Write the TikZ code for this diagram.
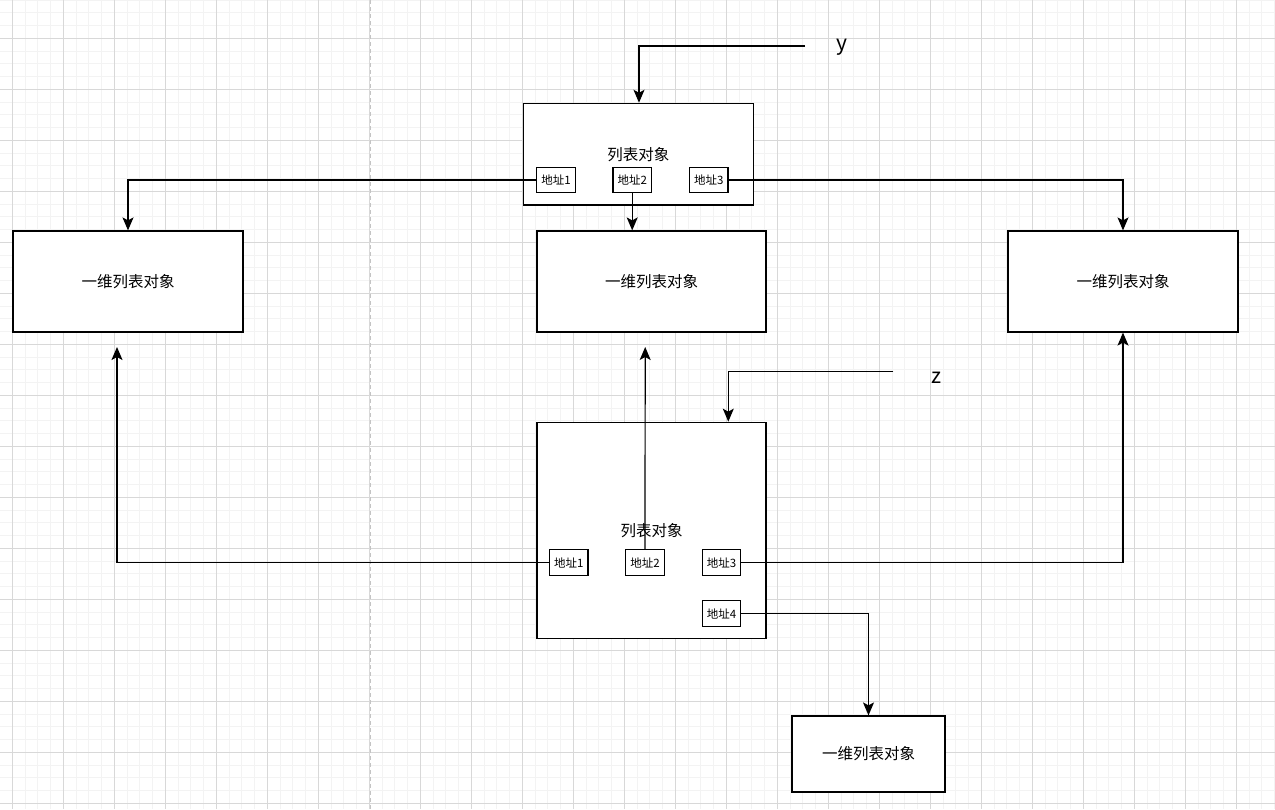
\documentclass[tikz,border=0pt]{standalone}
\usepackage{fontspec}
\setmainfont{Noto Sans CJK SC}
\usetikzlibrary{arrows.meta}
\definecolor{gridminor}{HTML}{F3F3F3}
\definecolor{gridmajor}{HTML}{D8D8D8}
\definecolor{dashgrey}{HTML}{C4C4C4}
\tikzset{
  box/.style={draw=black, fill=white, line width=1.2pt, inner sep=0pt},
  bigbox/.style={box, font=\fontsize{15.5}{17}\selectfont},
  addr/.style={box, minimum width=38.5pt, minimum height=25.5pt, font=\fontsize{11.5}{12}\selectfont},
  arr/.style={line width=1.2pt, -{Stealth[length=13pt,width=11pt,inset=3pt]}},
  lbl/.style={font=\fontsize{21}{24}\selectfont, inner sep=0pt}
}
\begin{document}
\begin{tikzpicture}[x=1pt,y=-1pt]
\useasboundingbox (0,0) rectangle (1275,809);
\fill[white] (0,0) rectangle (1275,809);
% grid
\foreach \i in {0,...,101} { \draw[gridminor, line width=1pt] ({-0.45+12.75*\i},0) -- ++(0,809); }
\foreach \i in {0,...,63} { \draw[gridminor, line width=1pt] (0,{0.05+12.75*\i}) -- ++(1275,0); }
\foreach \i in {0,...,24} { \draw[gridmajor, line width=1pt] ({12.3+51*\i},0) -- ++(0,809); }
\foreach \i in {0,...,15} { \draw[gridmajor, line width=1pt] (0,{38.3+51*\i}) -- ++(1275,0); }
\draw[dashgrey, line width=1.2pt, dash pattern=on 4pt off 3pt] (370.3,0) -- (370.3,809);

% top list object
\node[bigbox, minimum width=230pt, minimum height=101.7pt] (topL) at (638.3,154.2) {列表对象};
\node[addr] (a1) at (556,180) {地址1};
\node[addr] (a2) at (632.2,180) {地址2};
\node[addr] (a3) at (708.8,180) {地址3};

% one-dimensional list objects
\node[bigbox, minimum width=230pt, minimum height=101pt] (one1) at (128,281.5) {一维列表对象};
\node[bigbox, minimum width=229pt, minimum height=101pt] (one2) at (651.5,281.5) {一维列表对象};
\node[bigbox, minimum width=230pt, minimum height=101pt] (one3) at (1123,281.5) {一维列表对象};
\node[bigbox, minimum width=153pt, minimum height=76pt] (one4) at (868.5,754) {一维列表对象};

% bottom list object
\node[bigbox, minimum width=229pt, minimum height=216.5pt] (botL) at (651.5,530.5) {列表对象};
\node[addr] (b1) at (568.7,562.5) {地址1};
\node[addr] (b2) at (645,562.5) {地址2};
\node[addr] (b3) at (721.5,562.5) {地址3};
\node[addr] (b4) at (721.5,613.5) {地址4};

% labels
\node[lbl] (ylab) at (842,47) {y};
\node[lbl] (zlab) at (936.5,378) {z};

% connectors
\coordinate (ys) at (805,46);
\coordinate (yc) at (639,46);
\draw[arr] (ys) -- (yc) -- (yc |- topL.north);

\coordinate (zs) at (893.3,371.3);
\coordinate (zc) at (728.3,371.3);
\draw[arr] (zs) -- (zc) -- (zc |- botL.north);

\draw[arr] (a1.west) -| (one1.north);
\draw[arr] (a2.south) -- (a2.south |- one2.north);
\draw[arr] (a3.east) -| (one3.north);

\coordinate (b1e) at (117,347);
\coordinate (b2e) at (645.2,347);
\draw[arr] (b1.west) -| (b1e);
\draw[arr] (b2.north) -- (b2e);
\draw[arr] (b3.east) -| (one3.south);
\draw[arr] (b4.east) -| (one4.north);
\end{tikzpicture}
\end{document}
